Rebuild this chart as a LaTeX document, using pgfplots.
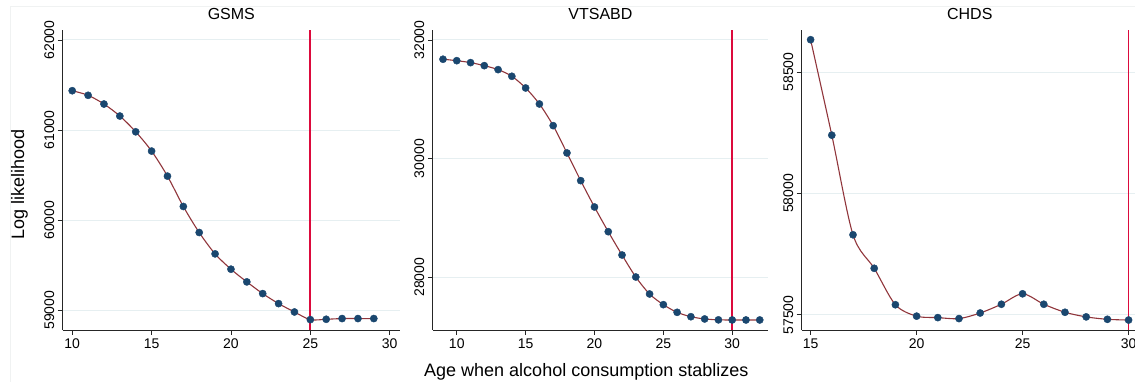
\documentclass[border=0pt]{standalone}
\usepackage{pgfplots}
\pgfplotsset{compat=1.18}
\usepackage{fontspec}
\setmainfont{Liberation Sans}
\definecolor{navy}{HTML}{1A476F}
\definecolor{maroon}{HTML}{90353B}
\definecolor{vred}{HTML}{DC0A3C}
\definecolor{gridc}{HTML}{E6EFF1}
\definecolor{framec}{HTML}{F0F2F2}

\pgfplotsset{panel/.style={
  scale only axis, height=300pt,
  axis x line*=bottom, axis y line*=left,
  axis line style={draw=black!85, line width=0.9pt, -},
  tick align=outside, tick pos=left, major tick length=5pt,
  every tick/.style={black!85, line width=0.9pt},
  ymajorgrids, grid style={gridc, line width=1pt},
  tick label style={font=\fontsize{14}{16}\selectfont},
  yticklabel style={rotate=90, anchor=south},
  /pgf/number format/1000 sep={},
  /pgf/number format/assume math mode=true,
  scaled ticks=false,
  title style={font=\fontsize{16}{18}\selectfont, at={(0.5,1)}, anchor=base, yshift=4.7pt},
  xtick={10,15,20,25,30},
},
dots/.style={only marks, mark=*, mark size=3.6pt, mark options={fill=navy, draw=navy}},
curve/.style={no marks, smooth, maroon, line width=1.1pt},
vline/.style={no marks, draw=vred, color=vred, line width=1.8pt},
}

\begin{document}
\begin{tikzpicture}[x=1pt,y=1pt]
\draw[framec, line width=0.8pt] (10,0) -- (10,376) -- (1135,376);

% GSMS
\begin{axis}[panel, at={(62.7pt,52pt)}, anchor=south west, width=337.3pt,
  xmin=9.4, xmax=30.65, ymin=58781, ymax=62111,
  ytick={59000,60000,61000,62000}, title={GSMS}]
\addplot[dots] coordinates {
(10,61437) (11,61386) (12,61289) (13,61156) (14,60981) (15,60767) (16,60489)
(17,60152) (18,59863) (19,59626) (20,59456) (21,59315) (22,59185) (23,59074)
(24,58981) (25,58896) (26,58900) (27,58908) (28,58908) (29,58908)};
\addplot[curve] coordinates {
(10,61437) (11,61386) (12,61289) (13,61156) (14,60981) (15,60767) (16,60489)
(17,60152) (18,59863) (19,59626) (20,59456) (21,59315) (22,59185) (23,59074)
(24,58981) (25,58896) (26,58900) (27,58908) (28,58908) (29,58908)};
\addplot[vline] coordinates {(25,58781) (25,62111)};
\end{axis}

% VTSABD
\begin{axis}[panel, at={(432.8pt,52pt)}, anchor=south west, width=335.2pt,
  xmin=8.26, xmax=32.6, ymin=27112, ymax=32168,
  ytick={28000,30000,32000}, title={VTSABD}]
\addplot[dots] coordinates {
(9,31675) (10,31651) (11,31618) (12,31567) (13,31500) (14,31388) (15,31191)
(16,30921) (17,30556) (18,30096) (19,29629) (20,29185) (21,28769) (22,28376)
(23,28005) (24,27719) (25,27539) (26,27410) (27,27336) (28,27298) (29,27283)
(30,27281) (31,27281) (32,27281)};
\addplot[curve] coordinates {
(9,31675) (10,31651) (11,31618) (12,31567) (13,31500) (14,31388) (15,31191)
(16,30921) (17,30556) (18,30096) (19,29629) (20,29185) (21,28769) (22,28376)
(23,28005) (24,27719) (25,27539) (26,27410) (27,27336) (28,27298) (29,27283)
(30,27281) (31,27281) (32,27281)};
\addplot[vline] coordinates {(30,27112) (30,32168)};
\end{axis}

% CHDS
\begin{axis}[panel, at={(801.7pt,52pt)}, anchor=south west, width=336.2pt,
  xmin=14.58, xmax=30.44, ymin=57438, ymax=58673,
  xtick={15,20,25,30},
  ytick={57500,58000,58500}, title={CHDS}]
\addplot[dots] coordinates {
(15,58633) (16,58240) (17,57830) (18,57692) (19,57542) (20,57495) (21,57489)
(22,57485) (23,57508) (24,57544) (25,57587) (26,57544) (27,57511) (28,57492)
(29,57482) (30,57479)};
\addplot[curve] coordinates {
(15,58633) (16,58240) (17,57830) (18,57692) (19,57542) (20,57495) (21,57489)
(22,57485) (23,57508) (24,57544) (25,57587) (26,57544) (27,57511) (28,57492)
(29,57482) (30,57479)};
\addplot[vline] coordinates {(30,57438) (30,58673)};
\end{axis}

\node[rotate=90, inner sep=0pt, font=\fontsize{18}{20}\selectfont] at (19.5,198) {Log likelihood};
\node[anchor=base, inner sep=0pt, font=\fontsize{18}{20}\selectfont] at (586.3,5.3) {Age when alcohol consumption stablizes};

\pgfresetboundingbox
\path (0,0) rectangle (1135,382);
\end{tikzpicture}
\end{document}
